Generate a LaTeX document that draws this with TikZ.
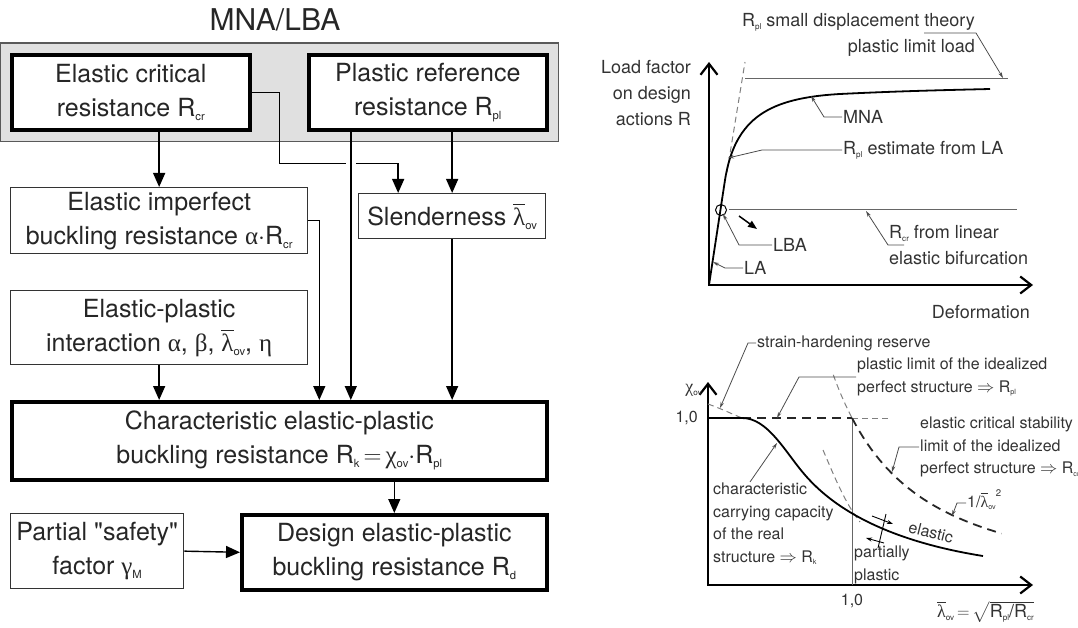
\documentclass[tikz,border=0pt]{standalone}
\usepackage{fontspec}
\setmainfont{TeX Gyre Heros}
\newfontfamily\grk{Liberation Serif}
\usepackage{amsmath}
\usepackage{graphicx}
\usetikzlibrary{arrows.meta,backgrounds,fit,positioning,calc}

\newcommand\lowsub[1]{\raisebox{-0.3ex}{\scalebox{0.45}{#1}}}
\newcommand\gr[1]{{\grk #1}}
\newcommand\lbar{$\overline{\mbox{\grk λ}}$}

\begin{document}
\begin{tikzpicture}[
        x=1pt, y=-1pt,
        font=\fontsize{25}{34}\selectfont,
        text=black!85,
        flow/.style={-{Triangle[length=14pt, width=12pt]}, line width=1.4pt},
        heavy/.style={draw, line width=3.6pt, fill=white, align=center,
            anchor=north west, inner sep=2pt},
        light/.style={draw=black!80, line width=1.3pt, fill=white, align=center,
            anchor=north west, inner sep=2pt},
        panel/.style={draw=black!65, line width=1.1pt, fill=black!12, inner sep=10pt},
        axis/.style={line width=2.2pt,
            {Straight Barb[length=11pt, width=17pt]}-{Straight Barb[length=11pt, width=17pt]}},
        leader/.style={line width=0.8pt, draw=black!70, -{Stealth[length=6pt, width=3.5pt]}},
        guide/.style={line width=1pt, draw=black!60},
        thindash/.style={line width=1pt, draw=black!50, dash pattern=on 6pt off 4pt},
        thickdash/.style={line width=1.8pt, draw=black!85, dash pattern=on 9pt off 6pt},
        lbl/.style={font=\fontsize{18}{26}\selectfont, text=black!80, inner sep=1pt},
        note/.style={font=\fontsize{16}{22.5}\selectfont, text=black!80, inner sep=1pt}
    ]
        \useasboundingbox (0,0) rectangle (1078,628);

        % Flow of resistances (MNA/LBA route).
        \node[font=\fontsize{30}{36}\selectfont] (title) at (275,20) {MNA/LBA};
        \node[heavy, minimum width=238, minimum height=75] (rcr) at (10,53)
            {Elastic critical\\resistance R\lowsub{cr}};
        \node[heavy, minimum width=238, minimum height=75] (rpl) at (307,53)
            {Plastic reference\\resistance R\lowsub{pl}};
        \node[light, minimum width=297, minimum height=66] (imp) at (10,187)
            {Elastic imperfect\\buckling resistance \gr{α}$\cdot$R\lowsub{cr}};
        \node[light, minimum width=187, minimum height=45] (slen) at (358,193)
            {Slenderness \lbar\lowsub{ov}};
        \node[light, minimum width=297, minimum height=74] (inter) at (10,290)
            {Elastic-plastic\\interaction \gr{α}, \gr{β}, \lbar\lowsub{ov}, \gr{η}};
        \node[heavy, minimum width=535, minimum height=78] (charact) at (10,400)
            {Characteristic elastic-plastic\\buckling resistance
             R\lowsub{k}$\,{=}\,$\gr{χ}\lowsub{ov}$\cdot$R\lowsub{pl}};
        \node[light, minimum width=173, minimum height=75] (partial) at (10,513)
            {Partial \textquotedbl safety\textquotedbl\\factor \gr{γ}\lowsub{M}};
        \node[heavy, minimum width=305, minimum height=75] (design) at (240,513)
            {Design elastic-plastic\\buckling resistance R\lowsub{d}};

        \begin{scope}[on background layer]
            \node[panel, fit=(rcr)(rpl)] (mnalba) {};
        \end{scope}

        \draw[flow] (rcr.south -| imp.north) -- (imp.north);
        \draw[flow] (rcr.east) -- ++(28,0) -- ++(0,71) coordinate (rcrbend)
            -| ([xshift=-54pt]slen.north);
        \coordinate (hop) at ([xshift=-77pt]rpl.south |- rcrbend);
        \draw[white, line width=3pt] ([xshift=-5pt]hop) -- ([xshift=5pt]hop);
        \draw[flow] ([xshift=-77pt]rpl.south) -- ([xshift=-77pt]rpl.south |- charact.north);
        \draw[flow] (rpl.south -| slen.north) -- (slen.north);
        \draw[flow] (imp.east) -| ($(imp.east |- charact.north)+(11,0)$);
        \draw[flow] (slen.south) -- (slen.south |- charact.north);
        \draw[flow] (inter.south) -- (inter.south |- charact.north);
        \draw[flow] (charact.south -| design.north) -- (design.north);
        \draw[flow] (partial.east) -- (design.west);

        % Load factor over deformation.
        \draw[axis] (709,62) -- (709,285) -- (1033,285);
        \draw[thindash] (727,172) -- (745,62);
        \draw[guide] (745,79) -- (1008,79);
        \draw[guide] (729,210) -- (1017,210);
        \draw[line width=1.8pt] (709,285) -- (725,180)
            .. controls (735,117) and (770,98) .. (840,94)
            .. controls (900,91) and (950,90) .. (990,89);
        \draw[line width=1pt] (721,210) circle[radius=5.5pt];
        \draw[line width=1.5pt, -{Triangle[length=9pt, width=7pt]}] (739,216) -- (757,229);

        \coordinate (plasttip) at (1003,78);
        \coordinate (mnatip) at (811,96);
        \coordinate (esttip) at (728,158);
        \coordinate (lbatip) at (723,214);
        \coordinate (latip) at (713,262);
        \coordinate (rcrtip) at (866,211);

        \node[lbl, anchor=east, align=right] (yl) at (692,93) {Load factor\\on design\\actions R};
        \node[lbl, anchor=east] (xl) at (1031,312) {Deformation};
        \node[lbl, anchor=east, align=right] (ptxt) at (976,35)
            {R\lowsub{pl} small displacement theory\\plastic limit load};
        \node[lbl, anchor=west] (mna) at (842,117) {MNA};
        \node[lbl, anchor=west] (pest) at (842,150) {R\lowsub{pl} estimate from LA};
        \node[lbl, anchor=west] (lba) at (772,245) {LBA};
        \node[lbl, anchor=west] (la) at (743,268) {LA};
        \node[lbl, anchor=west, align=left] (rcrtxt) at (888,245)
            {R\lowsub{cr} from linear\\elastic bifurcation};

        \draw[leader] ([xshift=-52pt, yshift=2pt]ptxt.east) -- ([yshift=2pt]ptxt.east) -- (plasttip);
        \draw[leader] (mna.west) -- ++(-18,0) -- (mnatip);
        \draw[leader] (pest.west) -- ++(-80,0) -- (esttip);
        \draw[leader] (lba.west) -- ++(-33,0) -- (lbatip);
        \draw[leader] (la.west) -- ++(-18,0) -- (latip);
        \draw[leader] ([xshift=16pt]rcrtxt.west) -- (rcrtxt.west) -- (rcrtip);

        % Buckling curve over slenderness.
        \draw[axis] (708,382) -- (708,585) -- (1033,585);
        \draw[guide] (852,418) -- (852,585);
        \draw[thindash] (708,404) .. controls (722,409) and (732,414) .. (742,418);
        \draw[thindash] (852,418) -- (890,418);
        \draw[thickdash] (742,418) -- (852,418);
        \draw[thickdash] plot[domain=1:2.04, samples=40] ({708+144*\x}, {585-167*\x^(-1.65)});
        \draw[thindash] plot[domain=0.87:1, samples=10] ({708+144*\x}, {585-167*\x^(-1.65)});
        \draw[thindash] (823,450) .. controls (835,478) and (845,503) .. (860,522);
        \draw[line width=1.8pt] (708,418) -- (742,418)
            .. controls (768,418) and (785,452) .. (805,475)
            .. controls (825,498) and (870,538) .. (983,556);
        \draw[line width=0.9pt] (878,548) -- (886,514);
        \draw[line width=0.9pt, -{Stealth[length=6pt, width=4pt]}] (872,516) -- (893,524);
        \draw[line width=0.9pt, -{Stealth[length=6pt, width=4pt]}] (884,543) -- (866,538);

        \coordinate (shrtip) at (720,408);
        \coordinate (plimtip) at (777,418);
        \coordinate (ecstip) at (892,472);
        \coordinate (lamtip) at (952,516);
        \coordinate (chartip) at (777,443);

        \node[lbl, anchor=east] (chi) at (703,390) {\gr{χ}\lowsub{ov}};
        \node[note, anchor=east] (one) at (699,418) {1,0};
        \node[note] (onex) at (852,601) {1,0};
        \node[lbl, anchor=east] (lamx) at (1035,612)
            {\lbar\lowsub{ov}$\,{=}\,\sqrt{\mbox{R\lowsub{pl}/R\lowsub{cr}}}$};
        \node[note, anchor=west] (shr) at (756,343) {strain-hardening reserve};
        \node[note, anchor=west, align=left] (plim) at (856,377)
            {plastic limit of the idealized\\perfect structure $\Rightarrow$ R\lowsub{pl}};
        \node[note, anchor=west, align=left] (ecs) at (919,447)
            {elastic critical stability\\limit of the idealized\\perfect structure $\Rightarrow$ R\lowsub{cr}};
        \node[note, anchor=base west] (lam) at (966,507)
            {1/\lbar\lowsub{ov}\raisebox{1.2ex}{\scalebox{0.6}{2}}};
        \node[note, rotate=-14, inner sep=0pt] (elastxt) at (931,532) {elastic};
        \node[note, anchor=west, align=left] (pptxt) at (853,565) {partially\\plastic};
        \node[note, anchor=west, align=left] (chtxt) at (712,524)
            {characteristic\\carrying capacity\\of the real\\structure $\Rightarrow$ R\lowsub{k}};

        \draw[leader] (shr.west) -- ++(-8,0) -- (shrtip);
        \draw[leader] (plim.west) -- ++(-57,0) -- (plimtip);
        \draw[leader] (ecs.west) -- ++(-20,0) -- (ecstip);
        \draw[leader] ([yshift=4pt]lam.base west) -- ++(-9,0) -- (lamtip);
        \draw[leader] ([xshift=38pt]chtxt.north west) -- (chartip);
    \end{tikzpicture}
\end{document}
